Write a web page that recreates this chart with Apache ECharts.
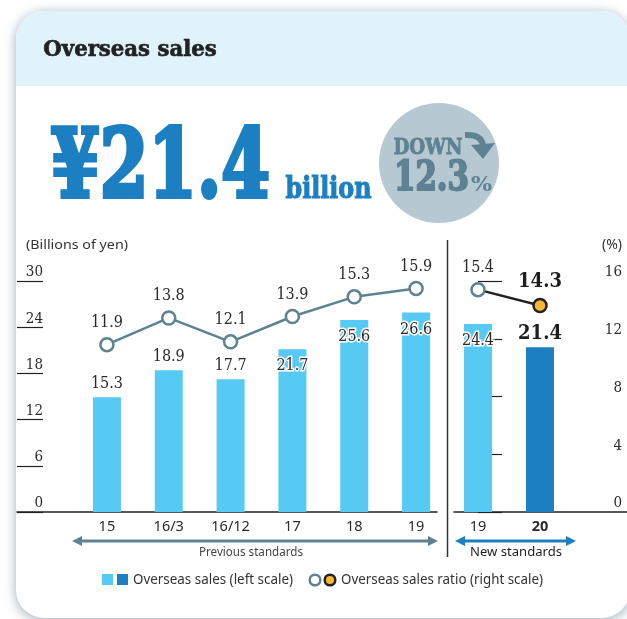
<!DOCTYPE html>
<html>
<head>
<meta charset="utf-8">
<script src="https://cdn.jsdelivr.net/npm/echarts@6/dist/echarts.min.js"></script>
<style>
  html, body { margin: 0; padding: 0; background: #ffffff; }
  #chart { width: 627px; height: 619px; }
</style>
</head>
<body>
<div id="chart"></div>
<script>
// Overseas sales, previous accounting standards
const categoriesPrev = ['15', '16/3', '16/12', '17', '18', '19'];
const salesPrev = [15.3, 18.9, 17.7, 21.7, 25.6, 26.6];
const ratioPrev = [11.9, 13.8, 12.1, 13.9, 15.3, 15.9];

// Overseas sales, new accounting standards
const categoriesNew = ['19', '20'];
const salesNew = [24.4, 21.4];
const ratioNew = [15.4, 14.3];

// Axis ticks
const salesTicks = [0, 6, 12, 18, 24, 30];
const ratioTicks = [0, 4, 8, 12, 16];

// Headline figures
const headlineValue = '¥21.4';
const headlineUnit = 'billion';
const changeWord = 'DOWN';
const changeValue = '12.3';

// Which bar labels sit inside the bar top
const labelInsidePrev = [false, false, false, true, true, true];
const labelInsideNew = [true, false];

const LIGHT = '#57caf4';
const DARK = '#1c7fc2';
const SLATE = '#5d8393';
const INK = '#2a2a2a';
const SERIF = "'DejaVu Serif Condensed', 'DejaVu Serif', serif";
const SANS = "'Noto Sans', 'Open Sans', sans-serif";

const measureCtx = document.createElement('canvas').getContext('2d');
// Text squeezed to a given width; an optional stroke in the fill colour makes it heavier
function fitText(text, left, cy, width, size, weight, family, color, heavy) {
  measureCtx.font = weight + ' ' + size + 'px ' + family;
  const w = measureCtx.measureText(text).width;
  const lw = heavy || 0;
  const style = {
    text: text, fontSize: size, fontWeight: weight, fontFamily: family,
    fill: color, align: 'left', verticalAlign: 'middle'
  };
  if (lw) {
    style.stroke = color;
    style.lineWidth = lw;
    style.lineJoin = 'round';
  }
  return {
    type: 'text', x: left + lw / 2, y: cy, scaleX: (width - lw) / w, z: 20,
    style: style
  };
}

const chart = echarts.init(document.getElementById('chart'), null, { renderer: 'canvas' });

const barLabelOut = {
  show: true, position: 'top', distance: 5,
  fontFamily: SERIF, fontSize: 16, color: INK,
  textBorderColor: '#fff', textBorderWidth: 3
};
const barLabelIn = Object.assign({}, barLabelOut, { position: 'insideTop', distance: 9 });

function barData(values, inside, colors, boldLast) {
  return values.map(function (v, i) {
    const item = { value: v, itemStyle: { color: colors[i] } };
    let lbl = inside[i] ? barLabelIn : barLabelOut;
    if (boldLast && i === values.length - 1) {
      lbl = Object.assign({}, lbl, { fontWeight: 'bold', fontSize: 20, distance: 3, color: '#1e1e1e' });
    }
    item.label = lbl;
    return item;
  });
}

const lineLabel = {
  show: true, position: 'top', distance: 6,
  fontFamily: SERIF, fontSize: 16, color: INK,
  textBorderColor: '#fff', textBorderWidth: 3
};

const option = {
  animation: false,
  backgroundColor: '#ffffff',
  grid: [
    // previous standards panel
    { left: 76, right: 180, top: 287, bottom: 107 },
    // new standards panel
    { left: 447, right: 56, top: 281, bottom: 107 },
    // left scale and baseline
    { left: 17, right: 190, top: 281, bottom: 107 },
    // right scale and baseline
    { left: 454, right: 0, top: 281, bottom: 107 }
  ],
  xAxis: [
    {
      type: 'category', gridIndex: 0, data: categoriesPrev,
      axisLine: { show: false }, axisTick: { show: false },
      axisLabel: { margin: 7, fontFamily: SANS, fontSize: 14.5, color: INK }
    },
    {
      type: 'category', gridIndex: 1,
      data: categoriesNew.map(function (c, i) {
        return i === categoriesNew.length - 1 ? { value: c, textStyle: { fontWeight: 'bold' } } : c;
      }),
      axisLine: { show: false }, axisTick: { show: false },
      axisLabel: { margin: 7, fontFamily: SANS, fontSize: 14.5, color: INK }
    },
    {
      type: 'value', gridIndex: 2, min: 0, max: 1,
      axisLine: { show: true, onZero: false, lineStyle: { color: '#222', width: 1.5 } },
      axisTick: { show: false }, axisLabel: { show: false }, splitLine: { show: false }
    },
    {
      type: 'value', gridIndex: 3, min: 0, max: 1,
      axisLine: { show: true, onZero: false, lineStyle: { color: '#222', width: 1.5 } },
      axisTick: { show: false }, axisLabel: { show: false }, splitLine: { show: false }
    }
  ],
  yAxis: [
    { type: 'value', gridIndex: 0, min: salesTicks[0], max: salesTicks[salesTicks.length - 1], show: false },
    { type: 'value', gridIndex: 0, min: ratioTicks[0], max: ratioTicks[ratioTicks.length - 1], show: false },
    { type: 'value', gridIndex: 1, min: salesTicks[0], max: salesTicks[salesTicks.length - 1], show: false },
    { type: 'value', gridIndex: 1, min: ratioTicks[0], max: ratioTicks[ratioTicks.length - 1], show: false },
    {
      type: 'value', gridIndex: 2, position: 'left', offset: -26,
      min: salesTicks[0], max: salesTicks[salesTicks.length - 1],
      interval: salesTicks[1] - salesTicks[0],
      axisLine: { show: false },
      axisTick: { show: true, length: 26, lineStyle: { color: '#222', width: 1.2 } },
      axisLabel: { margin: 0, verticalAlign: 'bottom', fontFamily: SERIF, fontSize: 15, color: INK, padding: [0, 0, 1, 0] },
      splitLine: { show: false }
    },
    {
      type: 'value', gridIndex: 3, position: 'right', offset: -24,
      min: ratioTicks[0], max: ratioTicks[ratioTicks.length - 1],
      interval: ratioTicks[1] - ratioTicks[0],
      axisLine: { show: false },
      axisTick: { show: true, length: 24, lineStyle: { color: '#222', width: 1.2 } },
      axisLabel: { margin: 19, align: 'right', verticalAlign: 'bottom', fontFamily: SERIF, fontSize: 15, color: INK, padding: [0, 0, 1, 0] },
      splitLine: { show: false }
    }
  ],
  series: [
    {
      name: 'Overseas sales', type: 'bar', xAxisIndex: 0, yAxisIndex: 0,
      barWidth: 28,
      data: barData(salesPrev, labelInsidePrev, salesPrev.map(function () { return LIGHT; }), false),
      z: 2
    },
    {
      name: 'Overseas sales ratio', type: 'line', xAxisIndex: 0, yAxisIndex: 1,
      data: ratioPrev,
      symbol: 'circle', symbolSize: 13,
      lineStyle: { color: SLATE, width: 2.5 },
      itemStyle: { color: '#ffffff', borderColor: SLATE, borderWidth: 2.5 },
      label: lineLabel,
      z: 3
    },
    {
      name: 'Overseas sales new', type: 'bar', xAxisIndex: 1, yAxisIndex: 2,
      barWidth: 28,
      data: barData(salesNew, labelInsideNew, [LIGHT, DARK], true),
      z: 2
    },
    {
      name: 'Overseas sales ratio new', type: 'line', xAxisIndex: 1, yAxisIndex: 3,
      symbol: 'circle', symbolSize: 13,
      lineStyle: { color: '#222', width: 2.5 },
      data: ratioNew.map(function (v, i) {
        const last = i === ratioNew.length - 1;
        return {
          value: v,
          itemStyle: last
            ? { color: '#f7b731', borderColor: '#222', borderWidth: 2.5 }
            : { color: '#ffffff', borderColor: SLATE, borderWidth: 2.5 },
          label: last
            ? Object.assign({}, lineLabel, { fontWeight: 'bold', fontSize: 20, color: '#1e1e1e' })
            : lineLabel
        };
      }),
      z: 3
    }
  ],
  graphic: [
    // card with soft shadow
    {
      type: 'rect', z: -20, silent: true,
      shape: { x: 16, y: 11, width: 614, height: 607, r: 28 },
      style: { fill: '#ffffff', shadowBlur: 12, shadowColor: 'rgba(70,105,125,0.55)', shadowOffsetX: 0, shadowOffsetY: 2 }
    },
    // header band
    {
      type: 'rect', z: -19, silent: true,
      shape: { x: 16, y: 11, width: 614, height: 75, r: [28, 28, 0, 0] },
      style: { fill: '#e0f2fa' }
    },
    fitText('Overseas sales', 43, 50.5, 174, 23, 'bold', SERIF, '#222222', 0.6),
    fitText(headlineValue, 49, 172, 223, 96, 'bold', SERIF, '#1b7fc2', 4),
    fitText(headlineUnit, 285, 190.5, 87, 29, 'bold', SERIF, '#1b7fc2', 1),
    // change badge
    {
      type: 'circle', z: 5, silent: true,
      shape: { cx: 439, cy: 163, r: 60 },
      style: { fill: '#b6c9d3' }
    },
    fitText(changeWord, 393, 148, 70, 22, 'bold', SERIF, '#5f8292', 0.8),
    fitText(changeValue, 393, 179, 77, 41, 'bold', SERIF, '#5f8292', 2),
    fitText('%', 471, 185.5, 21, 20, 'bold', SERIF, '#5f8292'),
    {
      type: 'bezierCurve', z: 21, silent: true,
      shape: { x1: 465, y1: 135, cpx1: 482, cpy1: 134, x2: 483, y2: 146 },
      style: { stroke: '#5f8292', lineWidth: 6, fill: null }
    },
    {
      type: 'polygon', z: 21, silent: true,
      shape: { points: [[471, 145], [495, 143], [483, 159]] },
      style: { fill: '#5f8292' }
    },
    // unit captions
    fitText('(Billions of yen)', 26, 245, 102, 13, 'normal', SANS, '#333333'),
    {
      type: 'text', x: 622, y: 245, z: 20,
      style: { text: '(%)', fontSize: 14, fontFamily: SANS, fill: '#333333', align: 'right', verticalAlign: 'middle' }
    },
    // separator between standards
    {
      type: 'line', z: 10, silent: true,
      shape: { x1: 447.5, y1: 240, x2: 447.5, y2: 557 },
      style: { stroke: '#333333', lineWidth: 1.5 }
    },
    // previous standards span arrow
    {
      type: 'line', z: 10, silent: true,
      shape: { x1: 78, y1: 541, x2: 432, y2: 541 },
      style: { stroke: SLATE, lineWidth: 3 }
    },
    { type: 'polygon', z: 10, silent: true, shape: { points: [[72, 541], [82, 536], [82, 546]] }, style: { fill: SLATE } },
    { type: 'polygon', z: 10, silent: true, shape: { points: [[438, 541], [428, 536], [428, 546]] }, style: { fill: SLATE } },
    fitText('Previous standards', 199, 552, 104, 13, 'normal', SANS, '#444444'),
    // new standards span arrow
    {
      type: 'line', z: 10, silent: true,
      shape: { x1: 461, y1: 541, x2: 570, y2: 541 },
      style: { stroke: DARK, lineWidth: 3 }
    },
    { type: 'polygon', z: 10, silent: true, shape: { points: [[455, 541], [465, 536], [465, 546]] }, style: { fill: DARK } },
    { type: 'polygon', z: 10, silent: true, shape: { points: [[576, 541], [566, 536], [566, 546]] }, style: { fill: DARK } },
    fitText('New standards', 470, 552, 92, 13, 'normal', SANS, '#1e1e1e'),
    // legend
    { type: 'rect', z: 10, silent: true, shape: { x: 102, y: 574, width: 11, height: 11 }, style: { fill: LIGHT } },
    { type: 'rect', z: 10, silent: true, shape: { x: 117, y: 574, width: 11, height: 11 }, style: { fill: DARK } },
    fitText('Overseas sales (left scale)', 133, 580, 160, 14, 'normal', SANS, '#333333'),
    { type: 'circle', z: 10, silent: true, shape: { cx: 315, cy: 580, r: 5.3 }, style: { fill: '#ffffff', stroke: SLATE, lineWidth: 2.5 } },
    { type: 'circle', z: 10, silent: true, shape: { cx: 330, cy: 580, r: 5.3 }, style: { fill: '#f7b731', stroke: '#222222', lineWidth: 2.5 } },
    fitText('Overseas sales ratio (right scale)', 341, 580, 202, 14, 'normal', SANS, '#333333')
  ]
};

chart.setOption(option);
</script>
</body>
</html>
